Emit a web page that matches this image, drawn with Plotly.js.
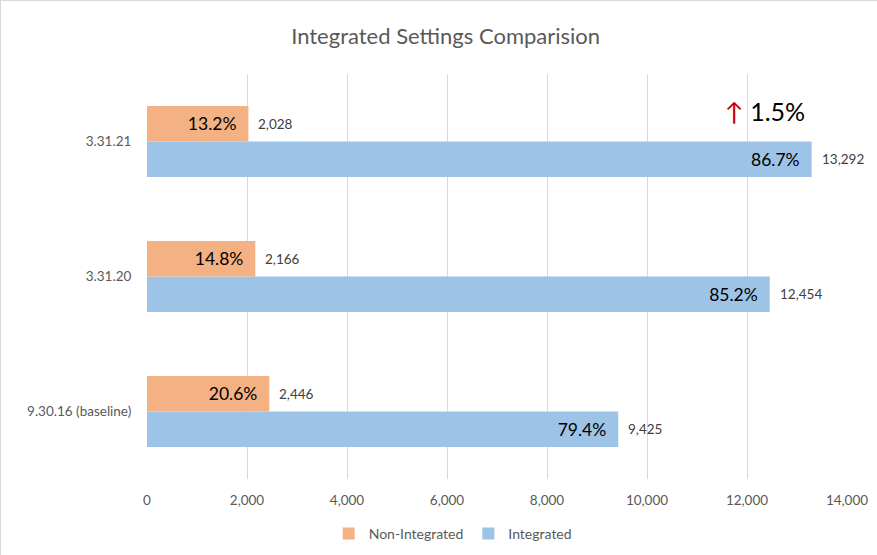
<!DOCTYPE html>
<html><head><meta charset="utf-8">
<script src="https://cdn.plot.ly/plotly-3.0.1.min.js"></script>
<style>html,body{margin:0;padding:0;background:#fff;}#chart{width:877px;height:555px;box-sizing:border-box;border:1px solid #d9d9d9;}</style>
</head><body><div id="chart"></div>
<script>
const categories = ["9.30.16 (baseline)", "3.31.20", "3.31.21"];
const nonIntegrated = [2446, 2166, 2028];
const integrated = [9425, 12454, 13292];
const nonIntPct = [20.6, 14.8, 13.2];
const intPct = [79.4, 85.2, 86.7];
const changeLabel = "1.5%";
const xTicks = [0, 2000, 4000, 6000, 8000, 10000, 12000, 14000];

const FONT = "Lato, 'Open Sans', sans-serif";
const fmt = v => v.toLocaleString("en-US");
const pad = "\u00a0\u00a0";

const traceInt = {
  type: "bar", orientation: "h", name: "Integrated",
  y: categories, x: integrated,
  marker: {color: "#9dc3e6"},
  text: intPct.map(p => p.toFixed(1) + "%" + pad),
  textposition: "inside", insidetextanchor: "end",
  textfont: {family: FONT, size: 17.5, color: "#000"},
  hoverinfo: "x+name"
};
const traceNon = {
  type: "bar", orientation: "h", name: "Non-Integrated",
  y: categories, x: nonIntegrated,
  marker: {color: "#f4b183"},
  text: nonIntPct.map(p => p.toFixed(1) + "%" + pad),
  textposition: "inside", insidetextanchor: "end",
  textfont: {family: FONT, size: 17.5, color: "#000"},
  hoverinfo: "x+name"
};

const annotations = [];
categories.forEach((c, i) => {
  annotations.push({x: nonIntegrated[i], y: c, xref: "x", yref: "y", text: fmt(nonIntegrated[i]),
    showarrow: false, xanchor: "left", xshift: 8, yshift: 17.5,
    font: {family: FONT, size: 13.5, color: "#404040"}});
  annotations.push({x: integrated[i], y: c, xref: "x", yref: "y", text: fmt(integrated[i]),
    showarrow: false, xanchor: "left", xshift: 8, yshift: -17.5,
    font: {family: FONT, size: 13.5, color: "#404040"}});
});
annotations.push({x: 12360, y: 0.908, xref: "x", yref: "paper",
  text: '<span style="color:#c00000">↑</span> ' + changeLabel,
  showarrow: false, xanchor: "center", yanchor: "middle",
  font: {family: FONT, size: 25, color: "#000"}});

const layout = {
  width: 877, height: 555,
  margin: {l: 146, r: 31, t: 73, b: 77},
  paper_bgcolor: "#fff", plot_bgcolor: "#fff",
  title: {text: "Integrated Settings Comparision", font: {family: FONT, size: 22, color: "#595959"},
    xref: "container", yref: "container", x: 0.507, y: 0.936, xanchor: "center", yanchor: "middle"},
  barmode: "group", bargap: 0.474, bargroupgap: 0,
  xaxis: {range: [0, 14000], tickvals: xTicks, ticktext: xTicks.map(fmt),
    showgrid: true, gridcolor: "#d9d9d9", gridwidth: 1, zeroline: false,
    ticks: "outside", ticklen: 9, tickcolor: "rgba(0,0,0,0)",
    tickfont: {family: FONT, size: 13.5, color: "#595959"}, showline: false, fixedrange: true,
    automargin: false},
  yaxis: {type: "category", categoryorder: "array", categoryarray: categories,
    showgrid: false, zeroline: false, showline: false,
    ticks: "outside", ticklen: 12, tickcolor: "rgba(0,0,0,0)",
    tickfont: {family: FONT, size: 13.5, color: "#595959"}, fixedrange: true, automargin: false},
  legend: {orientation: "h", xref: "container", yref: "container", x: 0.515, xanchor: "center",
    y: 0.04, yanchor: "middle",
    traceorder: "reversed", font: {family: FONT, size: 14, color: "#595959"},
    itemwidth: 30},
  annotations: annotations,
  showlegend: true
};

Plotly.newPlot("chart", [traceInt, traceNon], layout, {displayModeBar: false, staticPlot: true});
</script></body></html>
